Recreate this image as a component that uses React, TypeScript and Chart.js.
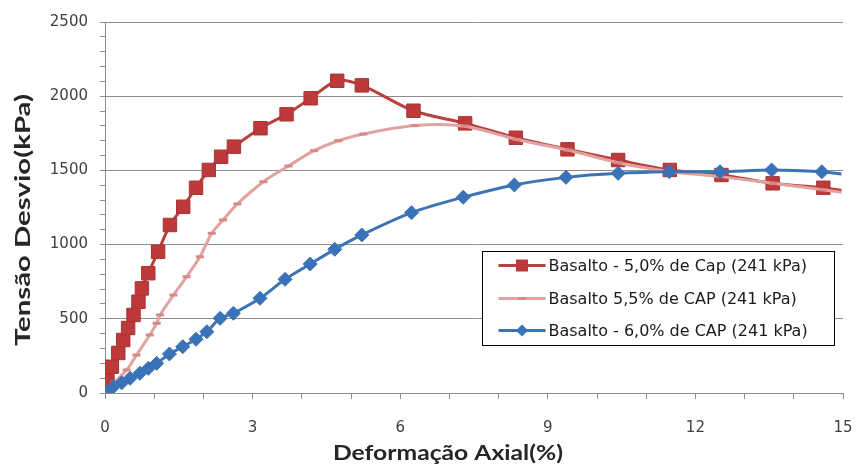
import React, { useEffect, useRef } from 'react';
import { Chart, registerables } from 'chart.js';

Chart.register(...registerables);

// ---- Data ----
const seriesNames = [
  'Basalto - 5,0% de Cap (241 kPa)',
  'Basalto 5,5% de CAP (241 kPa)',
  'Basalto - 6,0% de CAP (241 kPa)',
];

const xTickValues = [0, 3, 6, 9, 12, 15];
const yTickValues = [0, 500, 1000, 1500, 2000, 2500];

const xTitle = 'Deformação Axial(%)';
const yTitle = 'Tensão Desvio(kPa)';

// Basalto - 5,0% de Cap
const red_x = [0, 0.05, 0.14, 0.27, 0.37, 0.47, 0.58, 0.68, 0.75, 0.88, 1.08, 1.32, 1.59, 1.85, 2.11, 2.36, 2.62, 3.16, 3.69, 4.18, 4.72, 5.22, 6.27, 7.32, 8.35, 9.4, 10.43, 11.48, 12.53, 13.57, 14.6, 14.97];
const red_y = [0, 80, 177, 270, 357, 438, 526, 615, 705, 807, 952, 1132, 1255, 1383, 1503, 1592, 1660, 1784, 1878, 1986, 2104, 2073, 1902, 1817, 1720, 1642, 1570, 1503, 1469, 1413, 1383, 1365];

// Basalto 5,5% de CAP
const pink_x = [0, 0.2, 0.44, 0.64, 0.91, 1.05, 1.12, 1.39, 1.66, 1.93, 2.17, 2.4, 2.69, 3.22, 3.73, 4.25, 4.74, 5.25, 6.3, 7.32, 8.37, 9.41, 10.43, 11.48, 12.5, 13.58, 14.59, 14.97];
const pink_y = [0, 75, 155, 256, 391, 470, 526, 660, 784, 918, 1076, 1166, 1274, 1424, 1530, 1633, 1700, 1745, 1802, 1798, 1708, 1637, 1552, 1493, 1458, 1413, 1370, 1352];

// Basalto - 6,0% de CAP
const blue_x = [0, 0.17, 0.34, 0.51, 0.71, 0.88, 1.05, 1.31, 1.58, 1.85, 2.07, 2.34, 2.61, 3.15, 3.66, 4.17, 4.67, 5.22, 6.23, 7.28, 8.32, 9.37, 10.43, 11.47, 12.5, 13.55, 14.57, 14.97];
const blue_y = [0, 42, 69, 99, 133, 166, 200, 263, 312, 362, 413, 503, 537, 638, 766, 869, 968, 1065, 1215, 1319, 1402, 1453, 1480, 1491, 1491, 1503, 1491, 1476];

// ---- Styles ----
const RED_LINE = '#B8403D';
const RED_MARK = '#BE3A3A';
const PINK_LINE = '#E0A3A1';
const PINK_MARK = '#D88886';
const BLUE_LINE = '#3D73B5';
const BLUE_MARK = '#3A72B8';
const GRID = '#8C8C8C';
const TICK_TEXT = '#404040';

function toPoints(xs: number[], ys: number[]) {
  return xs.map((x, i) => ({ x, y: ys[i] }));
}

function fittedText(ctx: CanvasRenderingContext2D, text: string, cx: number, cy: number, targetW: number) {
  const w = ctx.measureText(text).width;
  const s = targetW / w;
  ctx.save();
  ctx.translate(cx, cy);
  ctx.scale(s, 1);
  ctx.textAlign = 'center';
  ctx.textBaseline = 'middle';
  ctx.fillText(text, 0, 0);
  ctx.restore();
}

const overlayPlugin = {
  id: 'overlay',
  afterDraw(chart: any) {
    const ctx: CanvasRenderingContext2D = chart.ctx;
    const ca = chart.chartArea;
    ctx.save();
    // axis titles
    ctx.fillStyle = '#262626';
    ctx.font = 'bold 21px Lato';
    fittedText(ctx, xTitle, ca.left + 343, ca.bottom + 60, 230);
    ctx.save();
    ctx.translate(23, ca.top + 198);
    ctx.rotate(-Math.PI / 2);
    fittedText(ctx, yTitle, 0, 0, 252);
    ctx.restore();

    // legend box
    const bx = ca.left + 377.5;
    const by = ca.top + 229.5;
    const bw = 352;
    const bh = 94;
    ctx.fillStyle = '#FFFFFF';
    ctx.fillRect(bx, by, bw, bh);
    ctx.strokeStyle = '#000000';
    ctx.lineWidth = 1;
    ctx.strokeRect(bx, by, bw, bh);

    const rows = [14, 47, 79];
    const lineColors = [RED_LINE, PINK_LINE, BLUE_LINE];
    rows.forEach((ry, i) => {
      const y = by + ry;
      const x0 = bx + 16;
      const x1 = bx + 63;
      const xm = (x0 + x1) / 2;
      ctx.strokeStyle = lineColors[i];
      ctx.lineWidth = 3;
      ctx.beginPath();
      ctx.moveTo(x0, y);
      ctx.lineTo(x1, y);
      ctx.stroke();
      if (i === 0) {
        ctx.fillStyle = RED_MARK;
        ctx.fillRect(xm - 6, y - 6, 12, 12);
      } else if (i === 1) {
        ctx.strokeStyle = PINK_MARK;
        ctx.lineWidth = 3;
        ctx.beginPath();
        ctx.moveTo(xm - 4, y);
        ctx.lineTo(xm + 4, y);
        ctx.stroke();
      } else {
        ctx.fillStyle = BLUE_MARK;
        ctx.beginPath();
        ctx.moveTo(xm, y - 6);
        ctx.lineTo(xm + 6, y);
        ctx.lineTo(xm, y + 6);
        ctx.lineTo(xm - 6, y);
        ctx.closePath();
        ctx.fill();
      }
      ctx.fillStyle = '#1A1A1A';
      ctx.font = '16px "DejaVu Sans"';
      ctx.textAlign = 'left';
      ctx.textBaseline = 'middle';
      ctx.fillText(seriesNames[i], bx + 66, y + 1);
    });
    ctx.restore();
  },
};

export default function App() {
  const ref = useRef<HTMLCanvasElement>(null);

  useEffect(() => {
    if (!ref.current) return;
    const radius = (r: number) => (c: any) => (c.dataIndex === c.dataset.data.length - 1 ? 0 : r);
    const chart = new Chart(ref.current, {
      type: 'line',
      data: {
        datasets: [
          {
            label: seriesNames[0],
            data: toPoints(red_x, red_y),
            borderColor: RED_LINE,
            borderWidth: 3,
            pointStyle: 'rect',
            pointRadius: radius(9.5),
            pointBackgroundColor: RED_MARK,
            pointBorderColor: '#A83434',
            pointBorderWidth: 1,
            tension: 0.3,
            order: 3,
          },
          {
            label: seriesNames[1],
            data: toPoints(pink_x, pink_y),
            borderColor: PINK_LINE,
            borderWidth: 3,
            pointStyle: 'line',
            pointRadius: radius(4),
            pointBorderColor: PINK_MARK,
            pointBorderWidth: 3,
            tension: 0.3,
            order: 2,
          },
          {
            label: seriesNames[2],
            data: toPoints(blue_x, blue_y),
            borderColor: BLUE_LINE,
            borderWidth: 3,
            pointStyle: 'rectRot',
            pointRadius: radius(7),
            pointBackgroundColor: BLUE_MARK,
            pointBorderColor: BLUE_MARK,
            pointBorderWidth: 1,
            tension: 0.3,
            order: 1,
          },
        ],
      },
      options: {
        responsive: false,
        animation: false,
        layout: { padding: { top: 22, right: 15, left: 0, bottom: 0 } },
        plugins: {
          legend: { display: false },
          tooltip: { enabled: false },
        },
        scales: {
          x: {
            type: 'linear',
            min: 0,
            max: 15,
            afterFit: (s: any) => {
              s.height = 74;
              s.paddingLeft = 0;
              s.paddingRight = 0;
            },
            ticks: {
              stepSize: 1,
              autoSkip: false,
              maxRotation: 0,
              padding: 20,
              color: TICK_TEXT,
              font: { family: 'DejaVu Sans', size: 15 },
              callback: (v: any) => (xTickValues.includes(Number(v)) ? String(v) : ''),
            },
            grid: {
              drawOnChartArea: false,
              tickLength: 6,
              tickColor: GRID,
            },
            border: { color: GRID, width: 1 },
          },
          y: {
            type: 'linear',
            min: 0,
            max: 2500,
            afterFit: (s: any) => {
              s.width = 105;
            },
            ticks: {
              stepSize: 100,
              autoSkip: false,
              padding: 12,
              color: TICK_TEXT,
              font: { family: 'DejaVu Sans', size: 15 },
              callback: (v: any) => (yTickValues.includes(Number(v)) ? String(v) : ''),
            },
            grid: {
              color: (c: any) => (c.tick && yTickValues.includes(c.tick.value) ? GRID : 'rgba(0,0,0,0)'),
              tickColor: GRID,
              tickLength: 5,
              lineWidth: 1,
            },
            border: { color: GRID, width: 1 },
          },
        },
      },
      plugins: [overlayPlugin],
    } as any);
    return () => chart.destroy();
  }, []);

  return (
    <div style={{ position: 'absolute', left: 0, top: 0, width: 858, height: 467, background: '#fff' }}>
      <canvas ref={ref} width={858} height={467} style={{ display: 'block' }} />
    </div>
  );
}
